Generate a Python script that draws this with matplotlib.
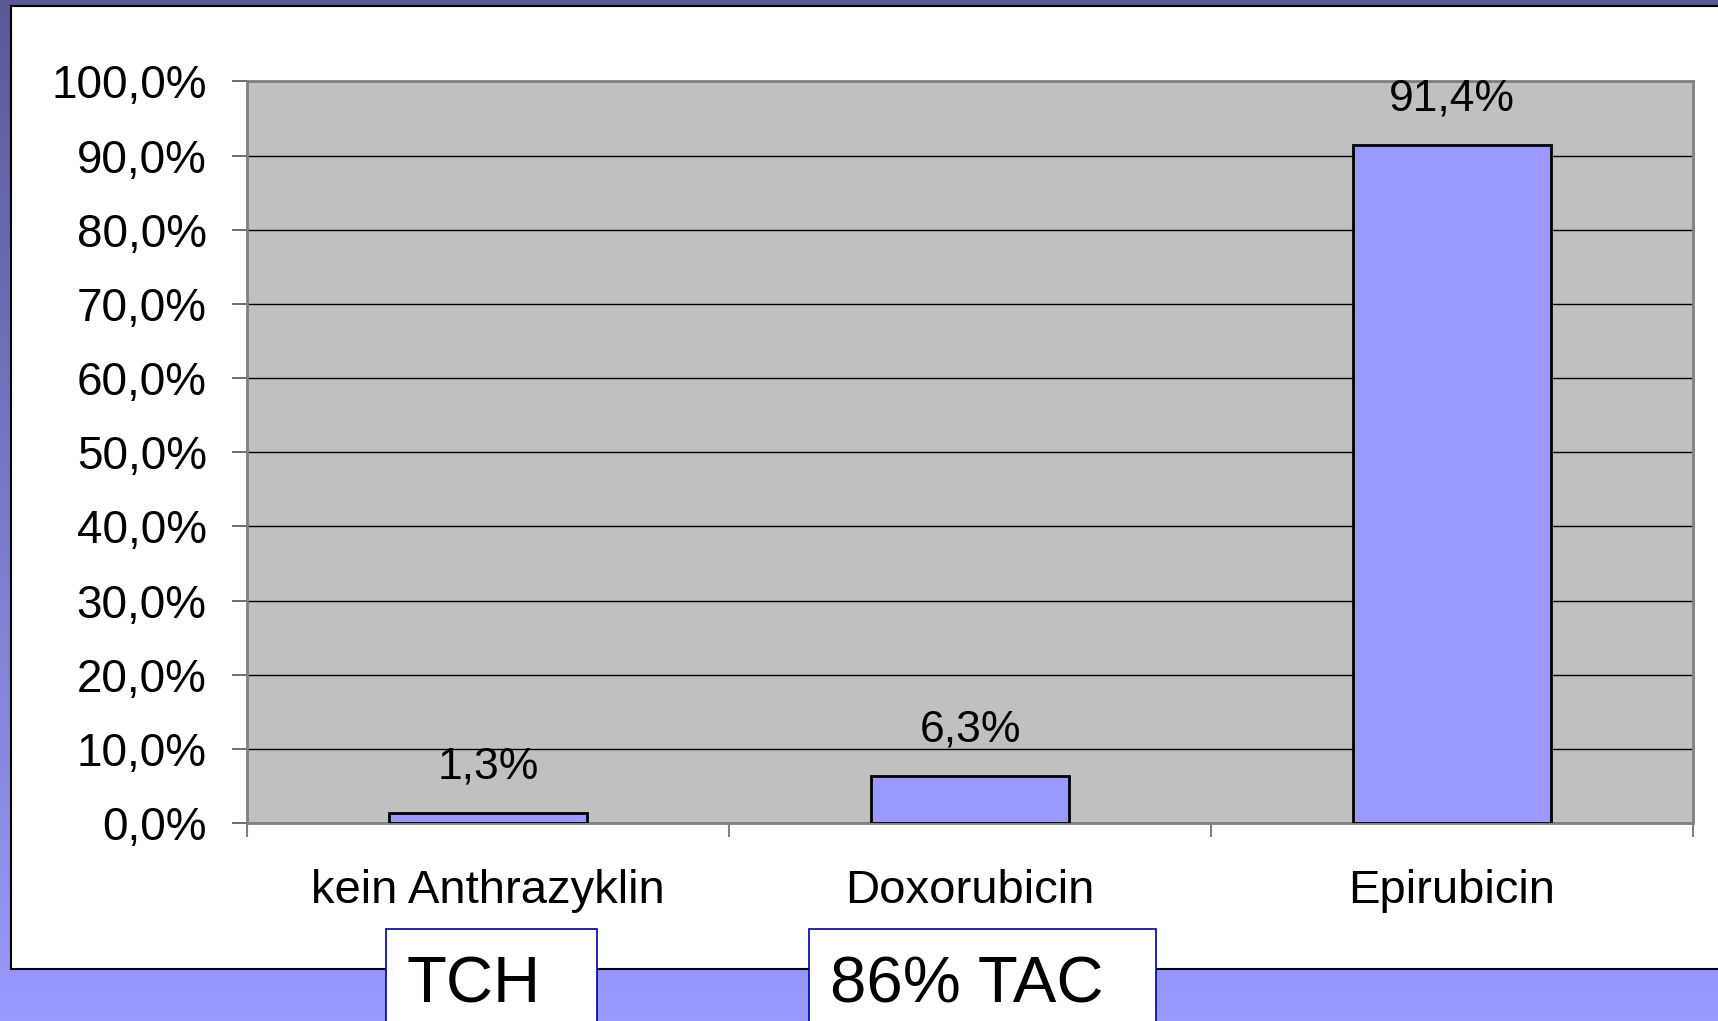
"""Bar chart: share of anthracycline types (kein Anthrazyklin / Doxorubicin / Epirubicin)."""

import numpy as np
import matplotlib.pyplot as plt
from matplotlib.patches import Rectangle

plt.rcParams['font.family'] = ['Liberation Sans', 'DejaVu Sans']

categories = ['kein Anthrazyklin', 'Doxorubicin', 'Epirubicin']
shares = [0.013, 0.063, 0.914]
value_labels = ['1,3%', '6,3%', '91,4%']
y_ticks = np.arange(0, 1.01, 0.1)
y_tick_labels = ['0,0%', '10,0%', '20,0%', '30,0%', '40,0%', '50,0%',
                 '60,0%', '70,0%', '80,0%', '90,0%', '100,0%']
box_texts = ['TCH', '86% TAC']

W, H = 1718, 1021
fig = plt.figure(figsize=(W / 100, H / 100), dpi=100)

# slide background in pixel coordinates
bg = fig.add_axes([0, 0, 1, 1])
bg.set_xlim(0, W)
bg.set_ylim(H, 0)
bg.axis('off')
top_col = np.array([90, 90, 150]) / 255
bot_col = np.array([153, 153, 255]) / 255
t = np.linspace(0, 1, 256)[:, None, None]
grad = top_col * (1 - t) + bot_col * t
bg.imshow(grad, extent=[0, W, H, 0], aspect='auto', zorder=0)
bg.add_patch(Rectangle((10.5, 6.5), W, 962, facecolor='white',
                       edgecolor='black', lw=1.5, zorder=1))

# text boxes at the bottom
box_x = [386, 809]
box_w = [211, 347]
for x0, bw, txt in zip(box_x, box_w, box_texts):
    bg.add_patch(Rectangle((x0, 928.5), bw, 120, facecolor='white',
                           edgecolor='#000099', lw=1.2, zorder=2))
    bg.text(x0 + 21, 1002, txt, fontsize=47, va='baseline', ha='left',
            color='black', zorder=3)

# main chart
ax = fig.add_axes([247 / W, (H - 823) / H, (1693 - 247) / W, (823 - 81.5) / H])
ax.set_facecolor('#C0C0C0')
x = np.arange(len(categories))
ax.bar(x, shares, width=0.41, color='#9999FF', edgecolor='black', lw=2, zorder=3)

ax.set_xlim(-0.5, 2.5)
ax.set_ylim(0, 1)
ax.set_yticks(y_ticks)
ax.set_yticklabels(y_tick_labels, fontsize=33)
ax.yaxis.grid(True, color='black', lw=1)
ax.set_axisbelow(True)
ax.tick_params(axis='y', length=11, width=1.2, color='#555555', pad=18)

ax.set_xticks(np.arange(-0.5, 3, 1.0))
ax.set_xticklabels([])
ax.tick_params(axis='x', length=10, width=1.5, color='#808080')

for s in ax.spines.values():
    s.set_color('#808080')
    s.set_linewidth(2)

for i, (v, lab) in enumerate(zip(shares, value_labels)):
    ax.annotate(lab, (i, v), xytext=(0, 35 * 0.72), textcoords='offset points',
                ha='center', va='baseline', fontsize=32, zorder=4)

for i, cat in enumerate(categories):
    ax.annotate(cat, (i, 0), xycoords=('data', 'axes fraction'),
                xytext=(0, -80 * 0.72), textcoords='offset points',
                ha='center', va='baseline', fontsize=34, annotation_clip=False)

fig.savefig('out.png', dpi=100)
